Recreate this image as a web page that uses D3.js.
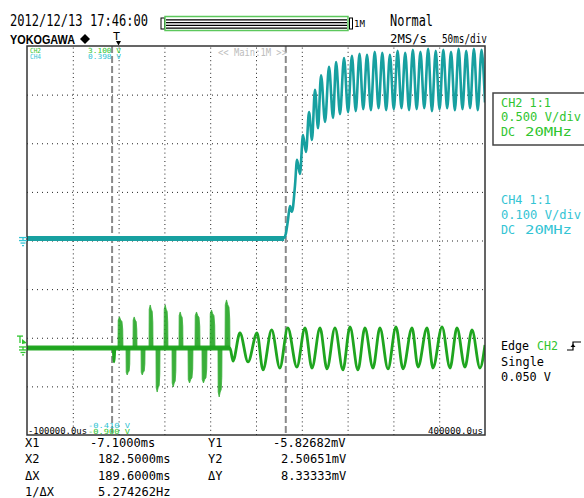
<!DOCTYPE html>
<html>
<head>
<meta charset="utf-8">
<script src="https://cdn.jsdelivr.net/npm/d3@7"></script>
<style>
  body { margin: 0; background: #fff; }
  text { font-family: "DejaVu Sans Mono", monospace; }
</style>
</head>
<body>
<div id="scope"></div>
<script>
// ---- scope settings / readouts ----
const timeRange = [-100, 400];      // ms, 50 ms/div
const timeTicks = [-50, 0, 50, 100, 150, 200, 250, 300, 350];
const divTicks = [-3, -2, -1, 0, 1, 2, 3];
const cursorTimes = [-7.1, 182.5];

const ch4VoltsPerDiv = 0.1, ch4Pos = 0.04;
const ch2VoltsPerDiv = 0.5, ch2Pos = -2.21;

// CH4 (teal) trace, ms / V
const ch4Time = [-100, 180.6, 182.7, 184.9, 187.1, 189.3, 192.6, 194.8, 198.0, 201.3, 204.6,
  207.9, 211.1, 214.4, 217.7, 221.0, 225.4, 229.7, 234.1, 237.4, 241.7, 246.1, 250.5,
  254.7, 258.9, 263.0, 267.1, 271.2, 275.4, 279.6, 283.8, 287.9, 292.1, 296.2, 300.4,
  304.6, 308.8, 312.9, 317.1, 321.2, 325.4, 329.5, 333.7, 337.9, 342.1, 346.2, 350.4,
  354.5, 358.7, 362.9, 367.1, 371.2, 375.4, 379.5, 383.7, 387.9, 392.1, 396.2, 400];
const ch4Volt = [0, 0, 0.011, 0.038, 0.067, 0.055, 0.110, 0.162, 0.133, 0.213, 0.178,
  0.260, 0.203, 0.306, 0.227, 0.336, 0.240, 0.353, 0.248, 0.363, 0.256, 0.371, 0.260,
  0.376, 0.262, 0.380, 0.266, 0.378, 0.264, 0.384, 0.268, 0.382, 0.264, 0.378, 0.266,
  0.386, 0.268, 0.382, 0.264, 0.388, 0.266, 0.384, 0.268, 0.390, 0.262, 0.386, 0.266,
  0.388, 0.268, 0.384, 0.264, 0.390, 0.266, 0.386, 0.268, 0.390, 0.264, 0.388, 0.280];

// CH2 (green) trace, ms / V
const ch2Time = [-100, -6, -5, -4, 121.6, 124.9, 132.5, 141.3, 151.1, 157.6, 167.1, 176.0,
  184.7, 194.6, 203.5, 211.1, 219.9, 227.5, 236.2, 244.9, 252.6, 261.3, 268.9, 277.7,
  285.3, 294.1, 302.8, 310.5, 320.3, 326.9, 336.7, 343.2, 353.1, 361.8, 369.4, 378.1,
  385.8, 394.5, 400];
const ch2Volt = [0, 0, -0.144, 0, 0, -0.134, 0.154, -0.144, 0.154, -0.226, 0.185, -0.206,
  0.206, -0.196, 0.206, -0.206, 0.206, -0.216, 0.206, -0.226, 0.216, -0.226, 0.206, -0.206,
  0.206, -0.216, 0.216, -0.216, 0.206, -0.196, 0.206, -0.206, 0.216, -0.206, 0.206, -0.196,
  0.185, -0.206, 0.030];

// CH2 switching bursts (start ms, end ms, extreme V)
const burstStart = [-0.7, 8.1, 15.7, 24.5, 33.2, 40.8, 49.6, 58.3, 65.9, 75.8, 83.4, 91.0, 99.8, 108.5, 116.2];
const burstEnd   = [4.8, 12.4, 20.1, 28.9, 37.6, 45.2, 53.9, 62.7, 70.3, 81.2, 88.9, 96.5, 105.2, 112.9, 121.6];
const burstPeak  = [0.319, -0.278, 0.319, -0.278, 0.442, -0.453, 0.442, -0.401, 0.370, -0.360, 0.370, -0.360, 0.391, -0.504, 0.494];

const measureNames = ["X1", "X2", "ΔX", "1/ΔX"];
const measureValues = ["-7.1000ms", "182.5000ms", "189.6000ms", "5.274262Hz"];
const yNames = ["Y1", "Y2", "ΔY"];
const yValues = ["-5.82682mV", "2.50651mV", "8.33333mV"];

// ---- drawing ----
const W = 584, H = 498;
const L = 27, R = 485, T = 46, B = 435;
const teal = "#17a0a0", cyan = "#33c4d4", green = "#1fa51f", textGreen = "#2fc52f";

const svg = d3.select("#scope").append("svg").attr("width", W).attr("height", H);

const x = d3.scaleLinear().domain(timeRange).range([L, R]);
const yDiv = d3.scaleLinear().domain([-4, 4]).range([B, T]);
const y4 = d3.scaleLinear()
  .domain([(-4 - ch4Pos) * ch4VoltsPerDiv, (4 - ch4Pos) * ch4VoltsPerDiv]).range([B, T]);
const y2 = d3.scaleLinear()
  .domain([(-4 - ch2Pos) * ch2VoltsPerDiv, (4 - ch2Pos) * ch2VoltsPerDiv]).range([B, T]);

svg.append("defs").append("clipPath").attr("id", "plot")
  .append("rect").attr("x", L).attr("y", T).attr("width", R - L).attr("height", B - T);

// grid (dotted)
const gx = svg.append("g").attr("transform", `translate(0,${B})`)
  .call(d3.axisBottom(x).tickValues(timeTicks).tickSize(-(B - T)).tickFormat(""));
gx.select(".domain").remove();
gx.selectAll("line").attr("stroke", "#222").attr("stroke-dasharray", "1,3.2");

const gy = svg.append("g").attr("transform", `translate(${L},0)`)
  .call(d3.axisLeft(yDiv).tickValues(divTicks).tickSize(-(R - L)).tickFormat(""));
gy.select(".domain").remove();
gy.selectAll("line").attr("stroke", "#222").attr("stroke-dasharray", "1,4");

// cursors
svg.selectAll(".cursor").data(cursorTimes).enter().append("line")
  .attr("class", "cursor")
  .attr("x1", d => x(d)).attr("x2", d => x(d))
  .attr("y1", T).attr("y2", B)
  .attr("stroke", "#8a8a8a").attr("stroke-width", 2).attr("stroke-dasharray", "7,3");

const traces = svg.append("g").attr("clip-path", "url(#plot)");
const smooth = d3.line().x(d => x(d[0])).curve(d3.curveMonotoneX);

// CH4
const ch4 = d3.zip(ch4Time, ch4Volt);
traces.append("path").datum(ch4.slice(0, 2))
  .attr("d", d3.line().x(d => x(d[0])).y(d => y4(d[1])))
  .attr("fill", "none").attr("stroke", teal).attr("stroke-width", 5);
traces.append("path").datum(ch4.slice(1))
  .attr("d", smooth.y(d => y4(d[1])))
  .attr("fill", "none").attr("stroke", teal).attr("stroke-width", 2.6)
  .attr("stroke-linejoin", "round");

// CH2 baseline band
traces.append("path").datum([[ch2Time[0], 0], [ch2Time[4], 0]])
  .attr("d", d3.line().x(d => x(d[0])).y(d => y2(d[1])))
  .attr("fill", "none").attr("stroke", green).attr("stroke-width", 5).attr("opacity", 0.95);

// CH2 bursts
const burstArea = d3.area().x(d => x(d[0])).y0(y2(0)).y1(d => y2(d[1]));
burstStart.forEach((s, i) => {
  const e = burstEnd[i], p = burstPeak[i], w = e - s;
  const shape = [[s, 0], [s + 0.05 * w, p * 0.9], [s + 0.3 * w, p], [s + 0.55 * w, p * 0.9],
    [s + 0.8 * w, p * 0.85], [s + 0.95 * w, p * 0.6], [e, 0]];
  traces.append("path").datum(shape).attr("d", burstArea)
    .attr("fill", green).attr("stroke", green).attr("stroke-width", 0.8).attr("opacity", 0.88);
});

// CH2 waveform
traces.append("path").datum(d3.zip(ch2Time, ch2Volt))
  .attr("d", d3.line().x(d => x(d[0])).y(d => y2(d[1])).curve(d3.curveMonotoneX))
  .attr("fill", "none").attr("stroke", green).attr("stroke-width", 2.8)
  .attr("stroke-linejoin", "round");

// frame
svg.append("rect").attr("x", L).attr("y", T).attr("width", R - L).attr("height", B - T)
  .attr("fill", "none").attr("stroke", "#333").attr("stroke-width", 1.5);

// ---- header ----
function txt(t, px, py, opts = {}) {
  const el = svg.append("text").attr("x", px).attr("y", py).text(t)
    .attr("font-size", opts.size || 12).attr("fill", opts.fill || "#000");
  if (opts.len) el.attr("textLength", opts.len).attr("lengthAdjust", "spacingAndGlyphs");
  if (opts.weight) el.attr("font-weight", opts.weight);
  if (opts.family) el.style("font-family", opts.family);
  return el;
}
txt("2012/12/13 17:46:00", 10, 26, { size: 15, len: 138 });
txt("YOKOGAWA", 10, 44, { size: 13, len: 65, weight: "bold", family: "Liberation Sans, Arial, sans-serif" });
svg.append("path").attr("d", "M85,34 L90,39 L85,44 L80,39 Z").attr("fill", "#000");

// trigger position marker
txt("T", 113, 40, { size: 10, len: 7 });
svg.append("path").attr("d", "M116,41 L121,41 L118.5,45.5 Z").attr("fill", "#000");

// zoom bar
svg.append("rect").attr("x", 161).attr("y", 18).attr("width", 3.5).attr("height", 11)
  .attr("fill", "#fff").attr("stroke", "#000");
svg.append("rect").attr("x", 165).attr("y", 16.5).attr("width", 183).attr("height", 14)
  .attr("fill", "none").attr("stroke", "#5cc85c").attr("stroke-width", 1.5);
[19.8, 22.6, 25.4, 28.2].forEach(yy => {
  svg.append("line").attr("x1", 166).attr("x2", 347).attr("y1", yy).attr("y2", yy)
    .attr("stroke", "#000").attr("stroke-width", 1.3);
});
svg.append("rect").attr("x", 349.5).attr("y", 18).attr("width", 3).attr("height", 11)
  .attr("fill", "#fff").attr("stroke", "#000");
txt("1M", 354, 27, { size: 8, len: 11 });

txt("Normal", 390, 26, { size: 15, len: 43 });
txt("2MS/s", 390, 43, { size: 13, len: 37 });
txt("50ms/div", 442, 43, { size: 13, len: 45 });

// in-plot readouts
txt("CH2", 30, 52.5, { size: 7, len: 11, fill: textGreen });
txt("CH4", 30, 59, { size: 7, len: 11, fill: cyan });
txt("3.100 V", 88, 52.5, { size: 7, len: 33, fill: textGreen });
txt("0.398 V", 88, 59, { size: 7, len: 33, fill: cyan });
txt("<< Main:1M >>", 218, 56, { size: 10, len: 69, fill: "#bdbdbd" });
txt("-100000.0us", 28, 434, { size: 9, len: 59 });
txt("-0.410 V", 88, 427.5, { size: 7, len: 42, fill: cyan });
txt("-0.900 V", 88, 434, { size: 7, len: 42, fill: textGreen });
txt("400000.0us", 428, 434, { size: 9, len: 55 });

// channel markers on the left
function groundMark(yy, col) {
  const g = svg.append("g").attr("stroke", col).attr("stroke-width", 1.3);
  g.append("line").attr("x1", 19).attr("x2", 27).attr("y1", yy - 1).attr("y2", yy - 1);
  g.append("line").attr("x1", 23).attr("x2", 23).attr("y1", yy - 1).attr("y2", yy + 2);
  g.append("line").attr("x1", 19).attr("x2", 27).attr("y1", yy + 2).attr("y2", yy + 2);
  g.append("line").attr("x1", 20.5).attr("x2", 25.5).attr("y1", yy + 4.5).attr("y2", yy + 4.5);
  g.append("line").attr("x1", 22).attr("x2", 24).attr("y1", yy + 7).attr("y2", yy + 7);
}
groundMark(y4(0), cyan);
groundMark(y2(0), textGreen);
const trigY = y2(0.05);
svg.append("g").attr("stroke", textGreen).attr("stroke-width", 1.3).call(g => {
  g.append("line").attr("x1", 17).attr("x2", 23).attr("y1", trigY - 7).attr("y2", trigY - 7);
  g.append("line").attr("x1", 20).attr("x2", 20).attr("y1", trigY - 7).attr("y2", trigY);
});
svg.append("path").attr("d", `M22,${trigY - 4} L27,${trigY} L22,${trigY + 1} Z`).attr("fill", textGreen);

// ---- right panel ----
svg.append("rect").attr("x", 493).attr("y", 93).attr("width", 100).attr("height", 52)
  .attr("fill", "none").attr("stroke", "#444").attr("stroke-width", 1.5);
txt("CH2 1:1", 501, 107, { size: 12, len: 50, fill: textGreen });
txt("0.500 V/div", 501, 121, { size: 12, len: 80, fill: textGreen });
txt("DC", 501, 136, { size: 12, len: 14, fill: textGreen });
txt("20MHz", 525, 136, { size: 12, len: 47, fill: textGreen });

txt("CH4 1:1", 501, 204, { size: 12, len: 50, fill: cyan });
txt("0.100 V/div", 501, 219, { size: 12, len: 80, fill: cyan });
txt("DC", 501, 234, { size: 12, len: 14, fill: cyan });
txt("20MHz", 525, 234, { size: 12, len: 47, fill: cyan });

txt("Edge", 501, 350, { size: 12, len: 28 });
txt("CH2", 537, 350, { size: 12, len: 21, fill: textGreen });
svg.append("path").attr("d", "M567,350 L573,350 L573,342 L581,342").attr("fill", "none")
  .attr("stroke", "#000").attr("stroke-width", 1.2);
svg.append("path").attr("d", "M570.5,347 L573,344 L575.5,347 Z").attr("fill", "#000");
txt("Single", 501, 366, { size: 12, len: 43 });
txt("0.050 V", 501, 381, { size: 12, len: 50 });

// ---- cursor measurements ----
const rowY = [447, 463, 480, 496];
const valX = [90, 98, 98, 98];
measureNames.forEach((n, i) => {
  txt(n, 25, rowY[i], { size: 12 });
  txt(measureValues[i], valX[i], rowY[i], { size: 12, len: measureValues[i].length * 7.25 });
});
const yValX = [273, 281, 281];
yNames.forEach((n, i) => {
  txt(n, 208, rowY[i], { size: 12 });
  txt(yValues[i], yValX[i], rowY[i], { size: 12, len: yValues[i].length * 7.25 });
});
</script>
</body>
</html>
